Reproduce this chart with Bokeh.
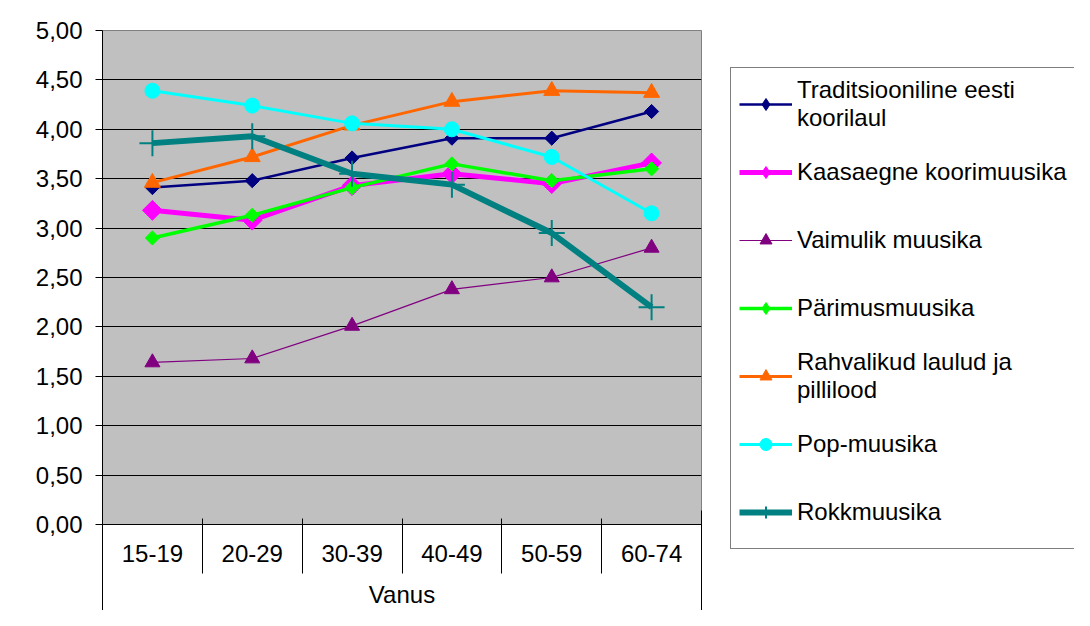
import math
from bokeh.plotting import figure
from bokeh.layouts import row
from bokeh.models import Range1d, FixedTicker, LinearAxis, Legend, LegendItem, Grid
from bokeh.embed import file_html
from bokeh.resources import INLINE

# ---- data ----
categories = ["15-19", "20-29", "30-39", "40-49", "50-59", "60-74"]
series_names = [
    "Traditsiooniline eesti\nkoorilaul",
    "Kaasaegne koorimuusika",
    "Vaimulik muusika",
    "Pärimusmuusika",
    "Rahvalikud laulud ja\npillilood",
    "Pop-muusika",
    "Rokkmuusika",
]
traditsiooniline = [3.41, 3.48, 3.71, 3.91, 3.91, 4.18]
kaasaegne = [3.18, 3.08, 3.43, 3.55, 3.45, 3.66]
vaimulik = [1.64, 1.68, 2.01, 2.38, 2.50, 2.80]
parimus = [2.90, 3.13, 3.41, 3.65, 3.48, 3.60]
rahvalikud = [3.46, 3.72, 4.04, 4.28, 4.39, 4.37]
pop = [4.39, 4.24, 4.06, 4.00, 3.72, 3.15]
rokk = [3.86, 3.93, 3.55, 3.44, 2.95, 2.20]
y_ticks = [0.0, 0.5, 1.0, 1.5, 2.0, 2.5, 3.0, 3.5, 4.0, 4.5, 5.0]
y_tick_labels = ["0,00", "0,50", "1,00", "1,50", "2,00", "2,50", "3,00", "3,50", "4,00", "4,50", "5,00"]
x_title = "Vanus"

values = [traditsiooniline, kaasaegne, vaimulik, parimus, rahvalikud, pop, rokk]

# ---- styles ----
styles = [
    dict(color="#000080", lw=2.5, marker="square", size=10, angle=math.pi / 4, leg="diamond"),
    dict(color="#FF00FF", lw=5, marker="square", size=14, angle=math.pi / 4, leg="diamond"),
    dict(color="#800080", lw=1.2, marker="triangle", size=15, angle=0, leg="triangle"),
    dict(color="#00FF00", lw=3.5, marker="square", size=10, angle=math.pi / 4, leg="diamond"),
    dict(color="#FF6600", lw=3, marker="triangle", size=16, angle=0, leg="triangle"),
    dict(color="#00FFFF", lw=3, marker="circle", size=15, angle=0, leg="circle"),
    dict(color="#008080", lw=6, marker="cross", size=26, angle=0, leg="cross"),
]

FONT = "Liberation Sans"
n = len(categories)
x_pos = [i + 0.5 for i in range(n)]

p = figure(width=720, height=610,
           x_range=Range1d(0, n), y_range=Range1d(y_ticks[0], y_ticks[-1]),
           x_axis_type=None, y_axis_type=None,
           output_backend="svg", toolbar_location=None,
           min_border_left=102, min_border_right=19, min_border_top=30, min_border_bottom=86,
           background_fill_color="#C0C0C0", border_fill_color="white",
           outline_line_color="#808080", outline_line_width=1)

# grid
p.add_layout(Grid(dimension=1, ticker=FixedTicker(ticks=y_ticks),
                  grid_line_color="black", grid_line_width=1))

# y axis
yaxis = LinearAxis(ticker=FixedTicker(ticks=y_ticks),
                   major_label_overrides=dict(zip(y_ticks, y_tick_labels)),
                   major_tick_out=7, major_tick_in=0,
                   major_tick_line_color="black", axis_line_color="black",
                   major_label_standoff=13,
                   major_label_text_font=FONT, major_label_text_font_size="24px",
                   major_label_text_color="black")
p.add_layout(yaxis, "left")

# x axis: category labels
xaxis = LinearAxis(ticker=FixedTicker(ticks=x_pos),
                   major_label_overrides=dict(zip(x_pos, categories)),
                   major_tick_out=0, major_tick_in=0,
                   axis_line_color="black",
                   major_label_standoff=20,
                   major_label_text_font=FONT, major_label_text_font_size="24px",
                   major_label_text_color="black")
p.add_layout(xaxis, "below")

# separators between categories and the axis title
xaxis_sep = LinearAxis(ticker=FixedTicker(ticks=[], minor_ticks=list(range(n + 1))),
                       major_tick_out=0, major_tick_in=0,
                       minor_tick_in=46, minor_tick_out=9,
                       minor_tick_line_color="black", minor_tick_line_width=1,
                       axis_line_color=None, major_label_standoff=0,
                       axis_label=x_title, axis_label_standoff=7,
                       axis_label_text_font=FONT, axis_label_text_font_size="24px",
                       axis_label_text_font_style="normal", axis_label_text_color="black")
p.add_layout(xaxis_sep, "below")

# outer vertical lines of the category band
xaxis_edge = LinearAxis(ticker=FixedTicker(ticks=[], minor_ticks=[0, n]),
                        major_tick_out=0, major_tick_in=0,
                        minor_tick_in=100, minor_tick_out=0,
                        minor_tick_line_color="black", minor_tick_line_width=1,
                        axis_line_color=None, major_label_standoff=0)
p.add_layout(xaxis_edge, "below")

for vals, st in zip(values, styles):
    p.line(x_pos, vals, line_color=st["color"], line_width=st["lw"])
    if st["marker"] == "cross":
        p.scatter(x_pos, vals, marker="cross", size=st["size"],
                  line_color=st["color"], line_width=2)
    else:
        p.scatter(x_pos, vals, marker=st["marker"], size=st["size"], angle=st["angle"],
                  fill_color=st["color"], line_color=st["color"], line_width=1)

# ---- legend panel (separate figure so the legend is not clipped by the chart frame) ----
pl = figure(width=354, height=610, x_range=Range1d(-2, -1), y_range=Range1d(0, 1),
            x_axis_type=None, y_axis_type=None, title=None,
            output_backend="svg", toolbar_location=None,
            min_border_left=0, min_border_right=0, min_border_top=0, min_border_bottom=0,
            background_fill_color="white", border_fill_color="white",
            outline_line_color=None)

for f in (p, pl):
    if "frame_align" in f.properties():
        f.frame_align = False

items = []
for name, vals, st in zip(series_names, values, styles):
    # same series data; this figure's x range lies outside it, so only the legend glyphs show
    rl = pl.line(x_pos, vals, line_color=st["color"], line_width=st["lw"])
    if st["leg"] == "cross":
        rs = pl.scatter(x_pos, vals, marker="cross", line_color=st["color"], line_width=2)
    else:
        rs = pl.scatter(x_pos, vals, marker=st["leg"], fill_color=st["color"],
                        line_color=st["color"], line_width=1)
    items.append(LegendItem(label=name, renderers=[rl, rs]))

legend = Legend(items=items, location=(10, 61),
                glyph_width=53, glyph_height=30, label_height=56,
                label_standoff=5, spacing=12, padding=8, margin=0,
                label_text_font=FONT, label_text_font_size="24px",
                label_text_color="black",
                border_line_color="black", border_line_width=1,
                background_fill_color="white", background_fill_alpha=1.0)
pl.add_layout(legend, "center")

layout = row(p, pl)
open("out.html", "w").write(file_html(layout, INLINE))
